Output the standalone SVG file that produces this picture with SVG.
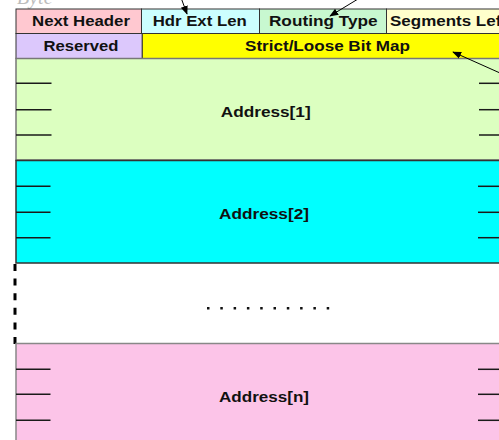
<svg xmlns="http://www.w3.org/2000/svg" width="499" height="440" viewBox="0 0 499 440">
  <style>
    .lbl { font-family: "Liberation Sans", Arial, sans-serif; font-weight: bold; font-size: 15px; fill: #111; text-anchor: middle; }
    .cell { stroke: #333; stroke-width: 1; }
    .tick { stroke: #1a1a1a; stroke-width: 1.5; }
    .conn { stroke: #000; stroke-width: 1; fill: none; marker-end: url(#head); }
  </style>
  <defs>
    <marker id="head" viewBox="0 0 10 10" refX="9" refY="5" markerWidth="9" markerHeight="9" markerUnits="userSpaceOnUse" orient="auto">
      <path d="M0,1 L10,5 L0,9 z" fill="#000"/>
    </marker>
  </defs>

  <rect width="499" height="440" fill="#fff"/>

  <!-- caption above the header, partly above the top edge -->
  <text x="17" y="4" font-family="Liberation Serif, serif" font-style="italic" font-size="20" fill="#bdbdbd">Byte</text>

  <!-- header row 1 -->
  <g id="next-header">
    <rect class="cell" x="16" y="9" width="125.5" height="24.5" fill="#ffc8d0"/>
    <text class="lbl" x="81" y="26" textLength="98" lengthAdjust="spacingAndGlyphs">Next Header</text>
  </g>
  <g id="hdr-ext-len">
    <rect class="cell" x="141.5" y="9" width="118" height="24.5" fill="#ccffff"/>
    <text class="lbl" x="199.7" y="26" textLength="94" lengthAdjust="spacingAndGlyphs">Hdr Ext Len</text>
  </g>
  <g id="routing-type">
    <rect class="cell" x="259.5" y="9" width="127" height="24.5" fill="#c8f8d0"/>
    <text class="lbl" x="323.3" y="26" textLength="108.7" lengthAdjust="spacingAndGlyphs">Routing Type</text>
  </g>
  <g id="segments-left">
    <rect class="cell" x="386.5" y="9" width="120" height="24.5" fill="#ffffcc"/>
    <text class="lbl" x="448.5" y="26" textLength="117" lengthAdjust="spacingAndGlyphs">Segments Left</text>
  </g>

  <!-- header row 2 -->
  <g id="reserved">
    <rect class="cell" x="16" y="33.5" width="126.3" height="25" fill="#dcc8fc"/>
    <text class="lbl" x="81" y="51" textLength="75" lengthAdjust="spacingAndGlyphs">Reserved</text>
  </g>
  <g id="bit-map">
    <rect class="cell" x="142.3" y="33.5" width="364" height="25" fill="#ffff00" stroke="#4a4a20"/>
    <text class="lbl" x="327.5" y="51" textLength="165" lengthAdjust="spacingAndGlyphs">Strict/Loose Bit Map</text>
  </g>

  <!-- address blocks -->
  <g id="address-1">
    <rect x="16" y="58.5" width="490" height="101.5" fill="#dcffc0" stroke="#777" stroke-width="1.5"/>
    <line class="tick" x1="16" y1="83.3" x2="51.5" y2="83.3"/>
    <line class="tick" x1="16" y1="109.7" x2="51.5" y2="109.7"/>
    <line class="tick" x1="16" y1="135" x2="51.5" y2="135"/>
    <line class="tick" x1="479" y1="83.3" x2="499" y2="83.3"/>
    <line class="tick" x1="479" y1="109.7" x2="499" y2="109.7"/>
    <line class="tick" x1="479" y1="135" x2="499" y2="135"/>
    <text class="lbl" x="265.7" y="116.5" textLength="90" lengthAdjust="spacingAndGlyphs">Address[1]</text>
  </g>
  <g id="address-2">
    <rect x="16" y="160.5" width="490" height="102.5" fill="#00ffff" stroke="#333" stroke-width="1.5"/>
    <line class="tick" x1="16" y1="186.3" x2="50.5" y2="186.3"/>
    <line class="tick" x1="16" y1="212.3" x2="50.5" y2="212.3"/>
    <line class="tick" x1="16" y1="237.7" x2="50.5" y2="237.7"/>
    <line class="tick" x1="478" y1="186.3" x2="499" y2="186.3"/>
    <line class="tick" x1="478" y1="212.3" x2="499" y2="212.3"/>
    <line class="tick" x1="478" y1="237.7" x2="499" y2="237.7"/>
    <text class="lbl" x="264" y="219" textLength="90" lengthAdjust="spacingAndGlyphs">Address[2]</text>
  </g>
  <g id="ellipsis">
    <line x1="15" y1="264" x2="15" y2="344" stroke="#000" stroke-width="3" stroke-dasharray="7 7.6"/>
    <g fill="#111">
      <rect x="207" y="307" width="2.5" height="2.5"/>
      <rect x="220.3" y="307" width="2.5" height="2.5"/>
      <rect x="233.6" y="307" width="2.5" height="2.5"/>
      <rect x="246.9" y="307" width="2.5" height="2.5"/>
      <rect x="260.2" y="307" width="2.5" height="2.5"/>
      <rect x="273.5" y="307" width="2.5" height="2.5"/>
      <rect x="286.8" y="307" width="2.5" height="2.5"/>
      <rect x="300.1" y="307" width="2.5" height="2.5"/>
      <rect x="313.4" y="307" width="2.5" height="2.5"/>
      <rect x="326.7" y="307" width="2.5" height="2.5"/>
    </g>
  </g>
  <g id="address-n">
    <rect x="16" y="343.5" width="490" height="110" fill="#fcc4e8" stroke="#888" stroke-width="1.5"/>
    <line class="tick" x1="16" y1="369.3" x2="50.5" y2="369.3"/>
    <line class="tick" x1="16" y1="394.3" x2="50.5" y2="394.3"/>
    <line class="tick" x1="16" y1="420.3" x2="50.5" y2="420.3"/>
    <line class="tick" x1="478" y1="369.3" x2="499" y2="369.3"/>
    <line class="tick" x1="478" y1="394.3" x2="499" y2="394.3"/>
    <line class="tick" x1="478" y1="420.3" x2="499" y2="420.3"/>
    <text class="lbl" x="264" y="402" textLength="90" lengthAdjust="spacingAndGlyphs">Address[n]</text>
  </g>

  <!-- pointers to fields -->
  <g id="connectors">
    <line class="conn" x1="181.5" y1="-1" x2="187" y2="14"/>
    <line class="conn" x1="358" y1="-1" x2="330" y2="16"/>
    <line class="conn" x1="500" y1="73" x2="453" y2="52"/>
  </g>
</svg>
